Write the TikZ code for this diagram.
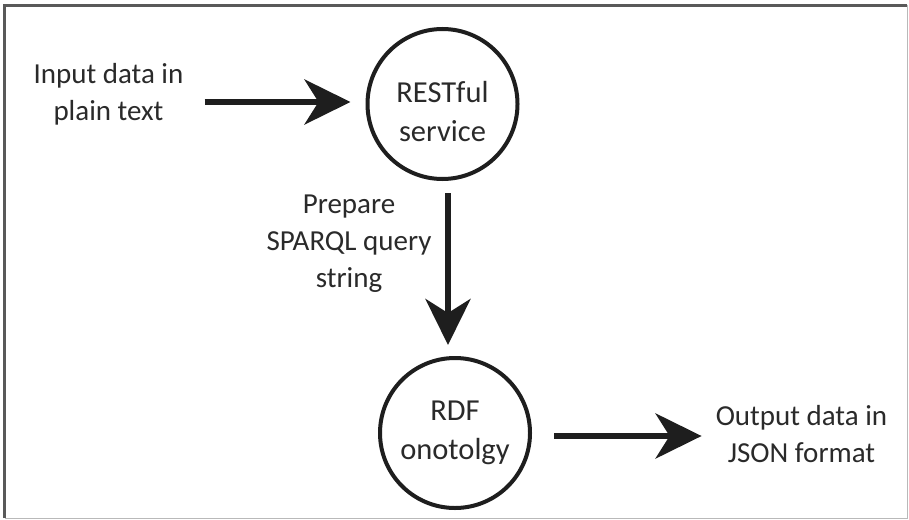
\documentclass[tikz,border=0pt]{standalone}
\usepackage{fontspec}
\setmainfont{Carlito}
\usetikzlibrary{arrows.meta,calc}
\definecolor{ink}{HTML}{1E1E1E}
\definecolor{txt}{HTML}{2A2A2A}
\tikzset{
  label text/.style={align=center, inner sep=0pt, text=txt,
    font=\fontsize{29}{37}\selectfont},
  process/.style={circle, draw=ink, line width=4pt, minimum size=150pt,
    inner sep=0pt, align=center, text=txt,
    font=\fontsize{30.5}{39}\selectfont},
  flow/.style={draw=ink, line width=6pt,
    -{Stealth[length=46pt, width=45pt, inset=14pt]}},
}
\begin{document}
\begin{tikzpicture}[x=1pt, y=-1pt]
  \useasboundingbox (0,0) rectangle (909,519);
  \fill[white] (0,0) rectangle (909,519);
  % frame: dark upper and left edges, pale lower and right edges
  \draw[gray!55, line width=1pt] (907,5) -- (907,518) -- (4.5,518);
  \draw[black!65, line width=3pt] (4.5,518) -- (4.5,5.5) -- (907,5.5);

  % processes
  \node[process, text height=76pt] (rest) at (442.5,104) {RESTful\\service};
  \node[process] (rdf) at (455,433) {RDF\\onotolgy};

  % data and step labels
  \node[label text] (inp)  at (108.5,94)   {Input data in\\plain text};
  \node[label text] (prep) at (349,243.5)  {Prepare\\SPARQL query\\string};
  \node[label text] (outp) at (801.5,434)  {Output data in\\JSON format};

  % flows
  \draw[flow] ($(inp.east |- rest.center)+(21,-2)$) -- ($(rest.west)+(-15,-2)$);
  \draw[flow] ($(rest.south)+(5.5,12)$) -- ($(rest.south |- rdf.north)+(5.5,-11)$);
  \draw[flow] ($(rdf.east)+(22,3)$) -- ($(outp.west |- rdf.east)+(-14,3)$);
\end{tikzpicture}
\end{document}
